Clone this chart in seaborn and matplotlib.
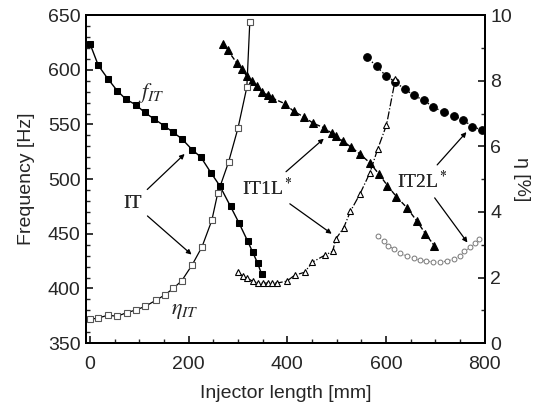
import pandas as pd
import matplotlib
matplotlib.use("Agg")
import matplotlib.pyplot as plt
from matplotlib.ticker import MultipleLocator
import seaborn as sns

# values
it_len = [0, 17, 36, 55, 73, 93, 111, 130, 150, 168, 186, 207, 225, 245, 263, 285, 302, 320, 330, 340, 348]
it_freq = [624, 604, 592, 581, 573, 568, 561, 555, 549, 543, 537, 527, 520, 506, 494, 475, 460, 443, 433, 423, 413]

eta_it_len = [0, 16, 36, 55, 75, 93, 112, 133, 152, 169, 186, 207, 227, 247, 259, 281, 300, 318, 324]
eta_it = [0.73, 0.76, 0.85, 0.82, 0.93, 1.01, 1.12, 1.30, 1.47, 1.67, 1.90, 2.38, 2.93, 3.74, 4.57, 5.52, 6.55, 7.80, 9.79]

it1l_len = [269, 279, 298, 308, 318, 328, 338, 348, 360, 370, 395, 413, 433, 453, 474, 490, 498,
            512, 530, 547, 567, 585, 603, 621, 642, 662, 680, 698]
it1l_freq = [624, 618, 606, 601, 594, 590, 585, 580, 577, 574, 569, 562, 557, 551, 547, 542, 539,
             535, 529, 523, 515, 505, 494, 484, 474, 462, 450, 439]

eta_it1l_len = [300, 310, 318, 330, 340, 350, 360, 370, 379, 399, 415, 435, 451, 476, 492, 498,
                514, 528, 547, 567, 583, 601, 619]
eta_it1l = [2.16, 2.04, 1.98, 1.89, 1.83, 1.83, 1.83, 1.83, 1.83, 1.89, 2.07, 2.16, 2.47, 2.68, 2.80,
            3.17, 3.51, 4.02, 4.54, 5.18, 5.91, 6.65, 8.05]

it2l_len = [561, 581, 601, 619, 638, 656, 676, 696, 717, 737, 757, 775, 794]
it2l_freq = [612, 603, 594, 589, 582, 577, 572, 566, 561, 558, 554, 548, 545]

eta_it2l_len = [583, 595, 605, 617, 628, 642, 656, 668, 682, 696, 709, 723, 737, 749, 759, 771, 781, 789]
eta_it2l = [3.26, 3.11, 2.96, 2.87, 2.74, 2.65, 2.59, 2.53, 2.50, 2.47, 2.47, 2.50, 2.56, 2.65,
            2.80, 2.93, 3.05, 3.17]

sns.set_theme(style="ticks")
plt.rcParams['font.family'] = ['Liberation Sans', 'DejaVu Sans']
plt.rcParams['mathtext.fontset'] = 'stix'

fig = plt.figure(figsize=(5.44, 4.08), dpi=100)
ax = fig.add_axes([0.158, 0.159, 0.733, 0.804])
ax2 = ax.twinx()

# frequency curves (left axis)
sns.lineplot(x=it_len, y=it_freq, ax=ax, sort=False, color='black', lw=1.0,
             marker='s', markersize=5, markerfacecolor='black', markeredgecolor='black')
sns.lineplot(x=it1l_len, y=it1l_freq, ax=ax, sort=False, color='black', lw=1.0, linestyle='--',
             marker='^', markersize=6, markerfacecolor='black', markeredgecolor='black')
sns.lineplot(x=it2l_len, y=it2l_freq, ax=ax, sort=False, color='black', lw=1.0, linestyle=':',
             marker='o', markersize=5.5, markerfacecolor='black', markeredgecolor='black')

# efficiency curves (right axis)
sns.lineplot(x=eta_it_len, y=eta_it, ax=ax2, sort=False, color='black', lw=0.9,
             marker='s', markersize=4, markerfacecolor='white', markeredgecolor='#555555',
             markeredgewidth=0.8)
sns.lineplot(x=eta_it1l_len, y=eta_it1l, ax=ax2, sort=False, color='black', lw=0.9, linestyle='-.',
             marker='^', markersize=5, markerfacecolor='white', markeredgecolor='black',
             markeredgewidth=0.8)
sns.lineplot(x=eta_it2l_len, y=eta_it2l, ax=ax2, sort=False, color='#777777', lw=0.8, linestyle=':',
             marker='o', markersize=3.5, markerfacecolor='white', markeredgecolor='#777777',
             markeredgewidth=0.7)

ax.set_xlim(-8, 800)
ax.set_ylim(350, 650)
ax2.set_ylim(0, 10)

ax.xaxis.set_major_locator(MultipleLocator(200))
ax.xaxis.set_minor_locator(MultipleLocator(50))
ax.yaxis.set_major_locator(MultipleLocator(50))
ax.yaxis.set_minor_locator(MultipleLocator(10))
ax2.yaxis.set_major_locator(MultipleLocator(2))
ax2.yaxis.set_minor_locator(MultipleLocator(1))

for a in (ax, ax2):
    a.tick_params(which='major', direction='in', length=5, width=1.3, labelsize=14, pad=4)
    a.tick_params(which='minor', direction='in', length=3, width=1.0)
    for s in a.spines.values():
        s.set_linewidth(1.4)
        s.set_color('black')
ax.tick_params(which='both', top=False, right=False)
ax.tick_params(axis='x', pad=9)
ax2.tick_params(which='both', left=False, right=True)

ax.set_xlabel("Injector length [mm]", fontsize=14, labelpad=9)
ax.set_ylabel("Frequency [Hz]", fontsize=14, labelpad=9)
ax2.set_ylabel("η [%]", fontsize=14, rotation=270, labelpad=13)

serif = ['Liberation Serif', 'DejaVu Serif']
arrow = dict(arrowstyle='-|>', color='black', lw=0.9, mutation_scale=7, shrinkA=2, shrinkB=0)

ax.text(125, 579, "$f_{IT}$", fontsize=16, ha='center', va='center')
ax.text(192, 380, r"$\eta_{IT}$", fontsize=16, ha='center', va='center')

ax.annotate("IT", xy=(192, 523), xytext=(87, 478), fontsize=14, family=serif,
            ha='center', va='center', arrowprops=arrow)
ax.annotate("IT", xy=(206, 431), xytext=(87, 478), fontsize=14, family=serif,
            ha='center', va='center', arrowprops=arrow)
ax.annotate("IT1L$^*$", xy=(474, 537), xytext=(360, 492), fontsize=14, family=serif,
            ha='center', va='center', arrowprops=arrow)
ax.annotate("IT1L$^*$", xy=(490, 450), xytext=(360, 492), fontsize=14, family=serif,
            ha='center', va='center', arrowprops=arrow)
ax.annotate("IT2L$^*$", xy=(763, 543), xytext=(674, 498), fontsize=14, family=serif,
            ha='center', va='center', arrowprops=arrow)
ax.annotate("IT2L$^*$", xy=(765, 442), xytext=(674, 498), fontsize=14, family=serif,
            ha='center', va='center', arrowprops=arrow)

fig.savefig("out.png", dpi=100, facecolor='white')
